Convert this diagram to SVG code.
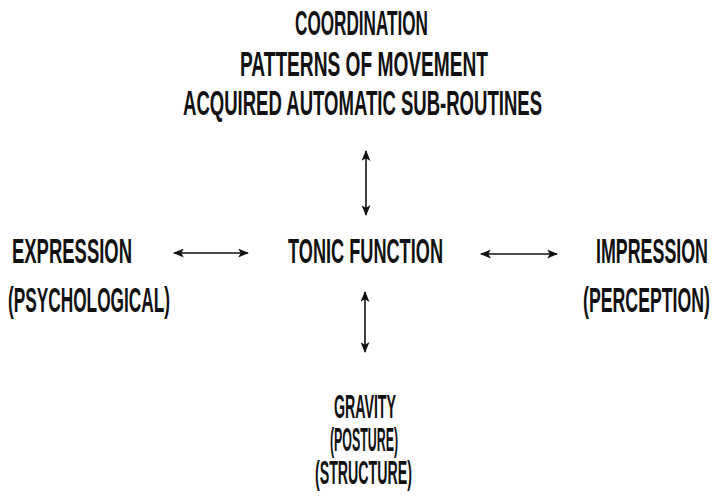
<svg xmlns="http://www.w3.org/2000/svg" width="713" height="498" viewBox="0 0 713 498">
<style>
text{font-family:"Liberation Sans",Arial,sans-serif;font-weight:bold;font-size:35px;fill:#111;}
.s{font-size:33px;}
.c{stroke:#111;stroke-width:1.6;fill:none;}
</style>
<defs>
<marker id="ah" viewBox="0 0 12 10" refX="11" refY="5" markerWidth="12" markerHeight="9" markerUnits="userSpaceOnUse" orient="auto-start-reverse">
<path d="M0,0 L12,5 L0,10 L3,5 Z" fill="#111"/>
</marker>
</defs>
<rect width="713" height="498" fill="#fff"/>
<g id="coordination">
<text x="295" y="35" textLength="133" lengthAdjust="spacingAndGlyphs">COORDINATION</text>
<text x="240" y="76" textLength="248" lengthAdjust="spacingAndGlyphs">PATTERNS OF MOVEMENT</text>
<text x="183" y="115" textLength="359" lengthAdjust="spacingAndGlyphs">ACQUIRED AUTOMATIC SUB-ROUTINES</text>
</g>
<g id="expression">
<text x="12" y="263" textLength="120" lengthAdjust="spacingAndGlyphs">EXPRESSION</text>
<text x="8" y="312" textLength="162" lengthAdjust="spacingAndGlyphs">(PSYCHOLOGICAL)</text>
</g>
<g id="tonic">
<text x="288" y="263" textLength="155" lengthAdjust="spacingAndGlyphs">TONIC FUNCTION</text>
</g>
<g id="impression">
<text x="596" y="263" textLength="112" lengthAdjust="spacingAndGlyphs">IMPRESSION</text>
<text x="583" y="312" textLength="127" lengthAdjust="spacingAndGlyphs">(PERCEPTION)</text>
</g>
<g id="gravity">
<text class="s" x="334" y="418" textLength="62" lengthAdjust="spacingAndGlyphs">GRAVITY</text>
<text class="s" x="330" y="451" textLength="68" lengthAdjust="spacingAndGlyphs">(POSTURE)</text>
<text class="s" x="315" y="484" textLength="97" lengthAdjust="spacingAndGlyphs">(STRUCTURE)</text>
</g>
<g id="connectors">
<line class="c" x1="366" y1="151" x2="366" y2="215" marker-start="url(#ah)" marker-end="url(#ah)"/>
<line class="c" x1="174" y1="253" x2="248" y2="253" marker-start="url(#ah)" marker-end="url(#ah)"/>
<line class="c" x1="481" y1="254" x2="557" y2="254" marker-start="url(#ah)" marker-end="url(#ah)"/>
<line class="c" x1="365" y1="292" x2="365" y2="352" marker-start="url(#ah)" marker-end="url(#ah)"/>
</g>
</svg>
